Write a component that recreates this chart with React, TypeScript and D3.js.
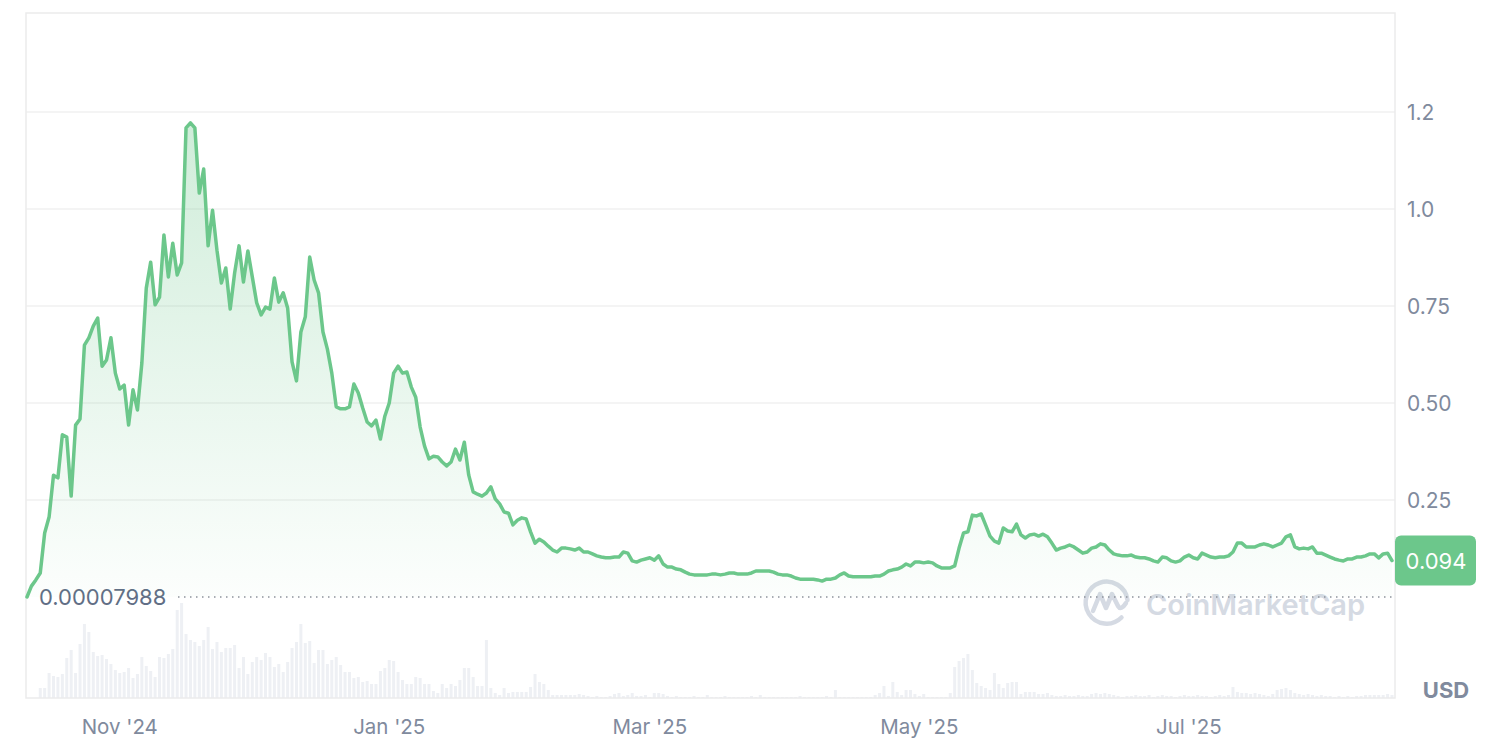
import React from "react";
import * as d3 from "d3";

// ---------- DATA (daily, Oct 11 2024 → Aug 16 2025) ----------
const startDate = Date.UTC(2024, 9, 11);

const prices: number[] = [
  0.00008, 0.028, 0.044, 0.062, 0.165, 0.206, 0.314, 0.307, 0.418, 0.412,
  0.260, 0.443, 0.459, 0.649, 0.668, 0.698, 0.719, 0.595, 0.611, 0.668,
  0.577, 0.536, 0.546, 0.443, 0.534, 0.482, 0.603, 0.796, 0.863, 0.753,
  0.773, 0.933, 0.825, 0.912, 0.830, 0.861, 1.209, 1.222, 1.209, 1.041,
  1.103, 0.905, 0.997, 0.894, 0.809, 0.848, 0.742, 0.835, 0.905, 0.812,
  0.892, 0.825, 0.758, 0.727, 0.747, 0.742, 0.822, 0.760, 0.784, 0.745,
  0.606, 0.557, 0.683, 0.722, 0.876, 0.817, 0.784, 0.683, 0.639, 0.577,
  0.490, 0.485, 0.485, 0.490, 0.549, 0.526, 0.487, 0.451, 0.441, 0.456,
  0.407, 0.466, 0.500, 0.577, 0.595, 0.577, 0.580, 0.541, 0.515, 0.438,
  0.389, 0.356, 0.363, 0.361, 0.348, 0.338, 0.348, 0.381, 0.353, 0.399,
  0.314, 0.271, 0.265, 0.260, 0.268, 0.284, 0.253, 0.240, 0.219, 0.216,
  0.186, 0.198, 0.204, 0.201, 0.168, 0.139, 0.149, 0.142, 0.131, 0.121,
  0.116, 0.126, 0.126, 0.124, 0.121, 0.126, 0.116, 0.116, 0.111, 0.106,
  0.103, 0.101, 0.101, 0.103, 0.103, 0.116, 0.113, 0.093, 0.090, 0.095,
  0.098, 0.101, 0.095, 0.106, 0.085, 0.077, 0.077, 0.072, 0.070, 0.064,
  0.059, 0.057, 0.057, 0.057, 0.057, 0.059, 0.059, 0.057, 0.059, 0.062,
  0.062, 0.059, 0.059, 0.059, 0.062, 0.067, 0.067, 0.067, 0.067, 0.064,
  0.059, 0.057, 0.057, 0.054, 0.049, 0.046, 0.046, 0.046, 0.046, 0.044,
  0.041, 0.046, 0.046, 0.049, 0.057, 0.062, 0.054, 0.052, 0.052, 0.052,
  0.052, 0.052, 0.054, 0.054, 0.059, 0.067, 0.070, 0.072, 0.077, 0.085,
  0.080, 0.090, 0.090, 0.088, 0.090, 0.088, 0.080, 0.075, 0.075, 0.075,
  0.080, 0.126, 0.165, 0.168, 0.211, 0.209, 0.214, 0.186, 0.157, 0.144,
  0.139, 0.178, 0.170, 0.168, 0.188, 0.160, 0.152, 0.160, 0.162, 0.157,
  0.162, 0.155, 0.139, 0.121, 0.126, 0.129, 0.134, 0.129, 0.121, 0.113,
  0.116, 0.126, 0.129, 0.137, 0.134, 0.121, 0.111, 0.108, 0.106, 0.106,
  0.108, 0.103, 0.101, 0.101, 0.098, 0.093, 0.090, 0.103, 0.101, 0.093,
  0.090, 0.093, 0.103, 0.108, 0.101, 0.098, 0.113, 0.108, 0.103, 0.101,
  0.103, 0.103, 0.106, 0.116, 0.139, 0.139, 0.129, 0.129, 0.129, 0.134,
  0.137, 0.134, 0.129, 0.134, 0.139, 0.155, 0.160, 0.129, 0.124, 0.126,
  0.124, 0.129, 0.113, 0.113, 0.108, 0.103, 0.098, 0.095, 0.093, 0.098,
  0.098, 0.103, 0.103, 0.106, 0.111, 0.111, 0.101, 0.111, 0.113, 0.094,
];

// 24h volume, millions USD (estimated)
const volumes: number[] = [
  0, 0, 0, 10, 10, 25, 22, 21, 24, 40,
  48, 25, 54, 74, 66, 46, 42, 43, 39, 34,
  28, 25, 26, 30, 20, 24, 41, 32, 27, 21,
  41, 40, 44, 49, 88, 95, 64, 58, 56, 52,
  58, 71, 49, 56, 46, 50, 50, 53, 30, 41,
  24, 36, 41, 38, 45, 41, 31, 34, 26, 36,
  50, 56, 74, 55, 57, 35, 48, 48, 34, 38,
  41, 33, 26, 26, 20, 21, 16, 17, 14, 14,
  27, 30, 38, 37, 26, 18, 14, 14, 21, 20,
  14, 14, 7, 5, 14, 10, 14, 12, 18, 30,
  30, 21, 12, 12, 58, 10, 5, 3, 10, 5,
  6, 6, 6, 6, 11, 24, 16, 14, 8, 3,
  3, 3, 3, 3, 3, 4, 3, 2, 1, 2,
  1, 1, 2, 4, 5, 2, 3, 5, 2, 2,
  3, 1, 5, 5, 4, 2, 1, 2, 1, 1,
  1, 2, 1, 1, 3, 1, 1, 1, 2, 1,
  1, 1, 1, 1, 2, 1, 3, 1, 1, 1,
  1, 1, 1, 1, 1, 2, 1, 1, 1, 1,
  1, 2, 1, 8, 1, 1, 1, 1, 1, 1,
  1, 1, 3, 5, 12, 2, 16, 6, 3, 8,
  8, 4, 2, 4, 1, 1, 1, 1, 1, 5,
  31, 37, 40, 44, 28, 15, 12, 10, 8, 25,
  14, 10, 15, 16, 16, 4, 6, 6, 6, 4,
  4, 5, 3, 2, 2, 3, 2, 2, 3, 2,
  2, 4, 5, 4, 5, 4, 3, 2, 1, 2,
  2, 3, 2, 2, 3, 1, 2, 3, 2, 2,
  1, 2, 3, 2, 2, 3, 2, 2, 1, 2,
  3, 2, 3, 11, 6, 5, 5, 4, 5, 4,
  3, 2, 4, 8, 9, 10, 8, 5, 4, 3,
  4, 3, 2, 3, 2, 2, 1, 2, 1, 2,
  1, 2, 2, 3, 3, 3, 3, 3, 4, 3,
];

const yTickValues = [0.25, 0.5, 0.75, 1.0, 1.25];
const yTickLabels = ["0.25", "0.50", "0.75", "1.0", "1.2"];

const xTickDates = [
  Date.UTC(2024, 10, 1),
  Date.UTC(2025, 0, 1),
  Date.UTC(2025, 2, 1),
  Date.UTC(2025, 4, 1),
  Date.UTC(2025, 6, 1),
];
const xTickLabels = ["Nov '24", "Jan '25", "Mar '25", "May '25", "Jul '25"];

const baselinePrice = 0.00007988;
const baselineLabel = "0.00007988";
const currentLabel = "0.094";
const currencyLabel = "USD";

// ---------- COMPONENT ----------
const GREEN = "#6cc78b";
const TEXT = "#808a9d";
const FONT = "Inter, 'Noto Sans', sans-serif";

export default function App() {
  const n = Math.min(prices.length, volumes.length);
  const dates = d3.range(n).map((i) => new Date(startDate + i * 86400000));
  const data = dates.map((d, i) => ({ date: d, price: prices[i], vol: volumes[i] }));

  const left = 26, right = 1395, top = 13, bottom = 698;

  const x = d3.scaleUtc().domain([dates[0], dates[n - 1]]).range([27, 1392]);
  const y = d3.scaleLinear().domain([0, 1.25]).range([597, 112]);
  const yVol = d3.scaleLinear().domain([0, 100]).range([bottom, 598]);

  const y0 = y(baselinePrice);
  const line = d3.line<any>().x((d) => x(d.date)).y((d) => y(d.price));
  const area = d3.area<any>().x((d) => x(d.date)).y0(y0).y1((d) => y(d.price));

  const last = data[n - 1];
  const lastY = y(last.price);
  const barW = 3;

  return (
    <svg
      width={1488}
      height={738}
      style={{ position: "absolute", left: 0, top: 0, background: "#fff" }}
      fontFamily={FONT}
    >
      <defs>
        <linearGradient id="fillGrad" gradientUnits="userSpaceOnUse" x1={0} y1={y(1.22)} x2={0} y2={y0}>
          <stop offset="0%" stopColor={GREEN} stopOpacity={0.32} />
          <stop offset="100%" stopColor={GREEN} stopOpacity={0.02} />
        </linearGradient>
      </defs>

      {/* grid lines */}
      {yTickValues.map((v) => (
        <line key={v} x1={left} x2={right} y1={y(v)} y2={y(v)} stroke="#f0f0f1" strokeWidth={1.5} />
      ))}

      {/* volume bars */}
      {data.map((d, i) =>
        d.vol > 0 ? (
          <rect
            key={i}
            x={x(d.date) - barW / 2}
            y={yVol(d.vol)}
            width={barW}
            height={bottom - yVol(d.vol)}
            fill="#eef0f4"
          />
        ) : null
      )}

      {/* frame */}
      <rect x={left} y={top} width={right - left} height={bottom - top} fill="none" stroke="#ebebec" strokeWidth={1.5} />

      {/* watermark */}
      <g>
        <path
          d="M1121.5,617.5 A21,21 0 1,1 1127.5,600"
          fill="none"
          stroke="#d5dae3"
          strokeWidth={4.5}
          strokeLinecap="round"
        />
        <path
          d="M1093,611 L1100,594 L1106,608 L1112,594 L1118,606 Q1121,611 1126,603"
          fill="none"
          stroke="#d5dae3"
          strokeWidth={4.5}
          strokeLinecap="round"
          strokeLinejoin="round"
        />
        <text x={1146} y={615} fontSize={29} fontWeight={600} fill="#d5dae3">
          CoinMarketCap
        </text>
      </g>

      {/* baseline dotted line */}
      <line x1={178} x2={right} y1={y0} y2={y0} stroke="#8e939c" strokeWidth={1.5} strokeDasharray="1.5,4.5" />
      <text x={39} y={y0} dy="0.38em" fontSize={22} fill="#616e85">
        {baselineLabel}
      </text>

      {/* area + line */}
      <path d={area(data) || ""} fill="url(#fillGrad)" />
      <path d={line(data) || ""} fill="none" stroke={GREEN} strokeWidth={3.5} strokeLinejoin="round" strokeLinecap="round" />

      {/* y tick labels */}
      {yTickValues.map((v, i) => (
        <text key={v} x={1407} y={y(v)} dy="0.37em" fontSize={21} fill={TEXT}>
          {yTickLabels[i]}
        </text>
      ))}

      {/* current price tag */}
      <rect x={1395} y={lastY - 25} width={81} height={50} rx={6} fill={GREEN} />
      <text x={1436} y={lastY} dy="0.37em" textAnchor="middle" fontSize={22} fill="#fff">
        {currentLabel}
      </text>

      {/* currency */}
      <text x={1446} y={698} textAnchor="middle" fontSize={22} fontWeight={700} fill={TEXT}>
        {currencyLabel}
      </text>

      {/* x tick labels */}
      {xTickDates.map((t, i) => (
        <text key={t} x={x(new Date(t))} y={734} textAnchor="middle" fontSize={20.5} fill={TEXT}>
          {xTickLabels[i]}
        </text>
      ))}
    </svg>
  );
}
